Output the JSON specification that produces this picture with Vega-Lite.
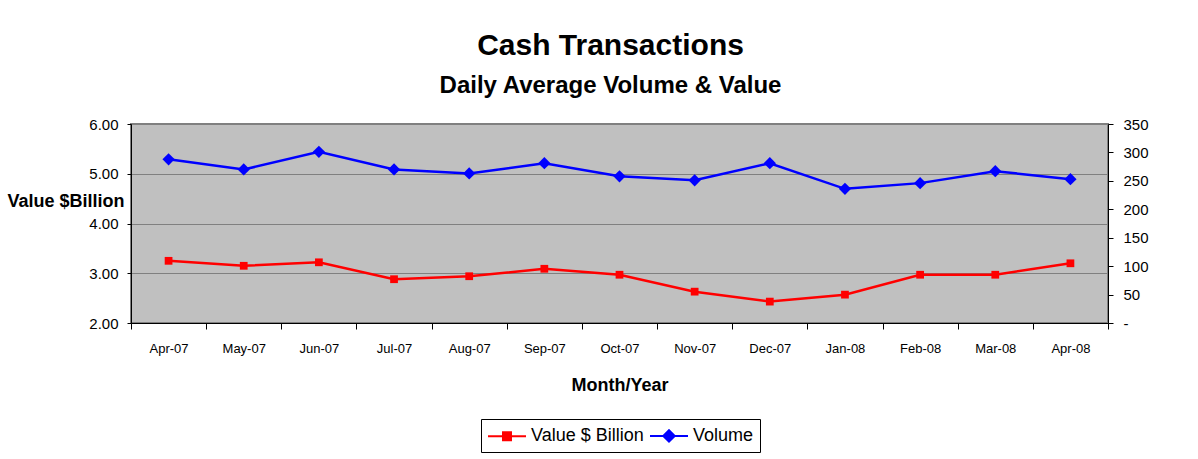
{
  "$schema": "https://vega.github.io/schema/vega-lite/v6.json",
  "width": 977,
  "height": 199,
  "autosize": "none",
  "padding": {"left": 131, "top": 124, "right": 90, "bottom": 136},
  "background": "white",
  "title": {
    "text": "Cash Transactions",
    "subtitle": "Daily Average Volume & Value",
    "anchor": "middle",
    "dx": -9,
    "offset": 19,
    "font": "Liberation Sans",
    "fontSize": 30,
    "fontWeight": "bold",
    "color": "black",
    "subtitleFont": "Liberation Sans",
    "subtitleFontSize": 24,
    "subtitleFontWeight": "bold",
    "subtitleColor": "black",
    "subtitlePadding": 13
  },
  "data": {
    "values": [
      {"month": "Apr-07", "value": 3.25, "volume": 288},
      {"month": "May-07", "value": 3.15, "volume": 270},
      {"month": "Jun-07", "value": 3.22, "volume": 301},
      {"month": "Jul-07", "value": 2.88, "volume": 270},
      {"month": "Aug-07", "value": 2.94, "volume": 263},
      {"month": "Sep-07", "value": 3.09, "volume": 281},
      {"month": "Oct-07", "value": 2.97, "volume": 258},
      {"month": "Nov-07", "value": 2.63, "volume": 251},
      {"month": "Dec-07", "value": 2.43, "volume": 281},
      {"month": "Jan-08", "value": 2.57, "volume": 236},
      {"month": "Feb-08", "value": 2.97, "volume": 246},
      {"month": "Mar-08", "value": 2.97, "volume": 267},
      {"month": "Apr-08", "value": 3.20, "volume": 253}
    ]
  },
  "encoding": {
    "x": {
      "field": "month",
      "type": "ordinal",
      "sort": null,
      "scale": {"type": "band", "paddingInner": 0, "paddingOuter": 0},
      "axis": {
        "title": "Month/Year",
        "titleFont": "Liberation Sans",
        "titleFontSize": 18,
        "titleFontWeight": "bold",
        "titleColor": "black",
        "titlePadding": 21,
        "labelAngle": 0,
        "labelFont": "Liberation Sans",
        "labelFontSize": 13,
        "labelColor": "black",
        "labelPadding": 13,
        "tickBand": "extent",
        "tickColor": "black",
        "tickSize": 6,
        "domainColor": "black",
        "grid": false
      }
    }
  },
  "layer": [
    {
      "mark": {
        "type": "line",
        "strokeWidth": 2.5,
        "point": {"shape": "square", "size": 60, "filled": true, "opacity": 1}
      },
      "encoding": {
        "y": {
          "field": "value",
          "type": "quantitative",
          "scale": {"domain": [2, 6], "nice": false, "zero": false},
          "axis": {
            "orient": "left",
            "title": "Value $Billion",
            "titleAngle": 0,
            "titleAlign": "right",
            "titleBaseline": "alphabetic",
            "titleX": -7,
            "titleY": 82,
            "titleFont": "Liberation Sans",
            "titleFontSize": 18,
            "titleFontWeight": "bold",
            "titleColor": "black",
            "values": [2, 3, 4, 5, 6],
            "format": ".2f",
            "labelFont": "Liberation Sans",
            "labelFontSize": 15,
            "labelColor": "black",
            "labelPadding": 9,
            "tickSize": 4,
            "tickColor": "black",
            "domainColor": "black",
            "grid": true,
            "gridColor": "#808080",
            "gridWidth": 1
          }
        },
        "color": {
          "datum": "Value $ Billion",
          "type": "nominal",
          "scale": {"domain": ["Value $ Billion", "Volume"], "range": ["#FF0000", "#0000FF"]},
          "legend": {
            "orient": "none",
            "legendX": 350,
            "legendY": 295,
            "direction": "horizontal",
            "title": null,
            "strokeColor": "black",
            "fillColor": "white",
            "padding": 6,
            "columnPadding": 2,
            "labelOffset": 23,
            "labelFont": "Liberation Sans",
            "labelFontSize": 18,
            "labelColor": "black",
            "symbolSize": 361,
            "symbolStrokeWidth": 2,
            "encode": {
              "symbols": {
                "update": {
                  "shape": {"signal": "datum.value === 'Volume' ? 'M-1,0H3M1,-0.6L1.6,0L1,0.6L0.4,0Z' : 'M-1,0H3M0.58,-0.42H1.42V0.42H0.58Z'"},
                  "fill": {"signal": "datum.value === 'Volume' ? '#0000FF' : '#FF0000'"},
                  "stroke": {"signal": "datum.value === 'Volume' ? '#0000FF' : '#FF0000'"},
                  "opacity": {"value": 1},
                  "fillOpacity": {"value": 1}
                }
              }
            }
          }
        }
      }
    },
    {
      "mark": {
        "type": "line",
        "strokeWidth": 2.5,
        "point": {"shape": "diamond", "size": 150, "filled": true, "opacity": 1}
      },
      "encoding": {
        "y": {
          "field": "volume",
          "type": "quantitative",
          "scale": {"domain": [0, 350], "nice": false},
          "axis": {
            "orient": "right",
            "title": null,
            "values": [0, 50, 100, 150, 200, 250, 300, 350],
            "labelExpr": "datum.value === 0 ? '-' : datum.label",
            "labelFont": "Liberation Sans",
            "labelFontSize": 15,
            "labelColor": "black",
            "labelPadding": 10,
            "tickSize": 5,
            "tickColor": "black",
            "domainColor": "black",
            "grid": false
          }
        },
        "color": {"datum": "Volume", "type": "nominal"}
      }
    }
  ],
  "resolve": {"scale": {"y": "independent"}},
  "config": {
    "view": {"stroke": "#808080", "strokeWidth": 2, "fill": "#C0C0C0"}
  }
}
